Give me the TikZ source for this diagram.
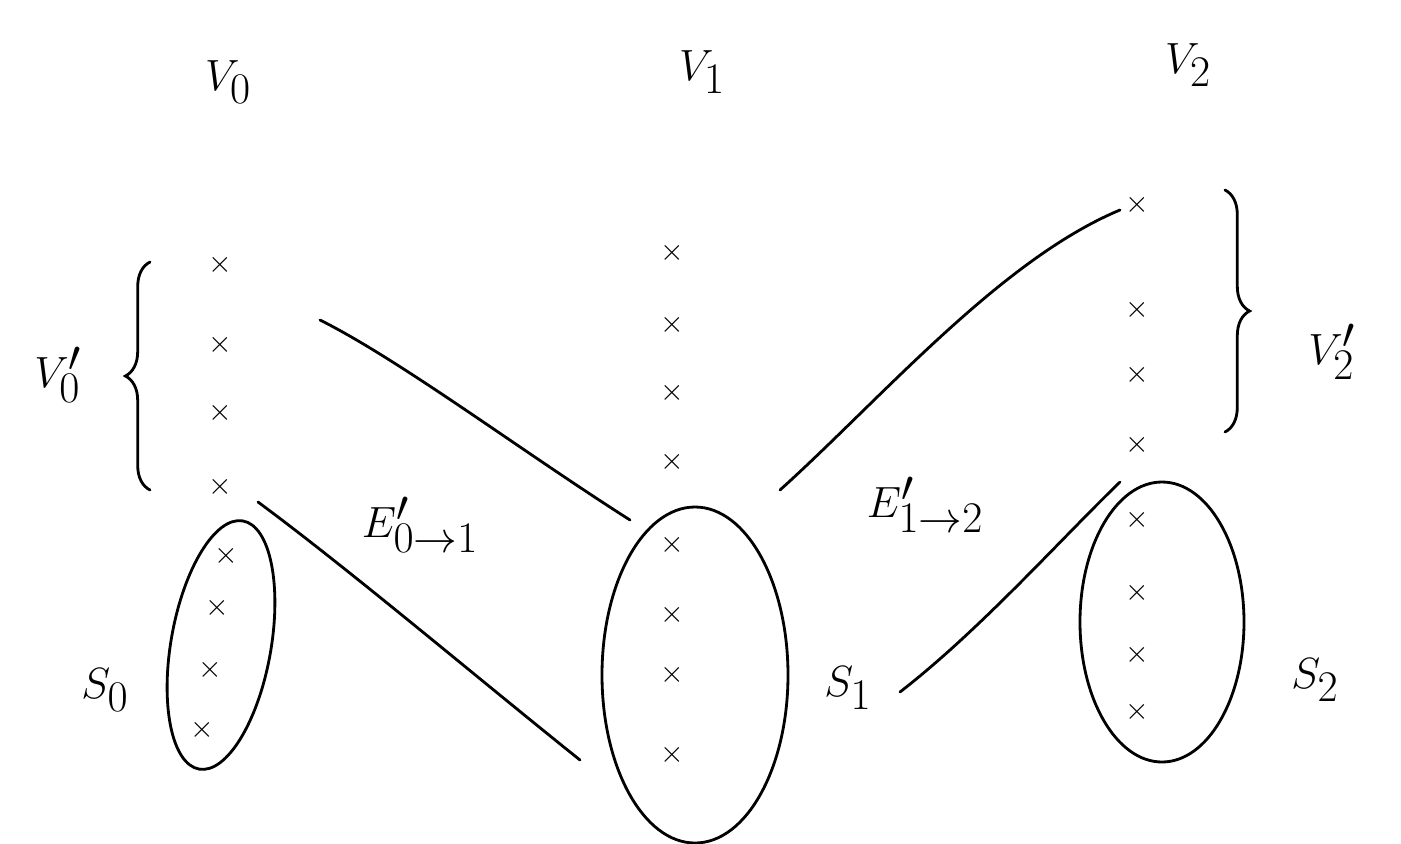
\documentclass[tikz,border=0pt]{standalone}
\usetikzlibrary{decorations.pathreplacing}
\begin{document}
\begin{tikzpicture}[x=0.02cm,y=-0.02cm,
  pt/.style={inner sep=0pt,font=\fontsize{16}{16}\selectfont},
  lbl/.style={inner sep=0pt,font=\fontsize{48}{52}\selectfont},
  elab/.style={inner sep=0pt,font=\fontsize{38}{42}\selectfont},
  stroke/.style={line width=1.6pt,line cap=round},
  brc/.style={stroke,decorate,decoration={brace,amplitude=14pt}}]
\useasboundingbox (0,0) rectangle (1401,843);
% column labels
\node[lbl] (v0) at (228,82) {$V_0$};
\node[lbl] (v1) at (702,72) {$V_1$};
\node[lbl] (v2) at (1188,65) {$V_2$};
% V0 column
\foreach \y [count=\i] in {265,345,413,487}
  \node[pt] (a\i) at (220,\y) {$\times$};
\foreach \x/\y [count=\i] in {226/556,217/608,210/670,202/730}
  \node[pt] (s0\i) at (\x,\y) {$\times$};
% V1 column
\foreach \y [count=\i] in {253,325,393,462,545,615,675,755}
  \node[pt] (b\i) at (672,\y) {$\times$};
% V2 column
\foreach \y [count=\i] in {205,310,375,445,520,593,655,712}
  \node[pt] (c\i) at (1137,\y) {$\times$};
% ellipses
\draw[stroke,rotate around={-10:(221,645)}] (221,645) ellipse [x radius=50, y radius=126];
\node[lbl] (S0) at (105,690) {$S_0$};
\draw[stroke] (695,675) ellipse [x radius=93, y radius=168];
\node[lbl] (S1) at (848,688) {$S_1$};
\draw[stroke] (1162,622) ellipse [x radius=82, y radius=140];
\node[lbl] (S2) at (1315,680) {$S_2$};
% braces
\draw[brc] (150,490) -- (150,262);
\node[lbl] (V0p) at (58,375) {$V_0'$};
\draw[brc] (1225,190) -- (1225,432);
\node[lbl] (V2p) at (1332,352) {$V_2'$};
% edges
\coordinate (e1a) at (320,320); \coordinate (e1b) at (630,520);
\coordinate (e2a) at (258,502); \coordinate (e2b) at (580,760);
\coordinate (e3a) at (780,490); \coordinate (e3b) at (1120,210);
\coordinate (e4a) at (900,692); \coordinate (e4b) at (1120,482);
\draw[stroke] (e1a) .. controls (400,360) and (520,450) .. (e1b);
\draw[stroke] (e2a) .. controls (350,570) and (480,680) .. (e2b);
\draw[stroke] (e3a) .. controls (880,400) and (1000,260) .. (e3b);
\draw[stroke] (e4a) .. controls (980,630) and (1060,540) .. (e4b);
\node[elab] (E01) at (420,525) {$E'_{0\to1}$};
\node[elab] (E12) at (925,505) {$E'_{1\to2}$};
\end{tikzpicture}
\end{document}
